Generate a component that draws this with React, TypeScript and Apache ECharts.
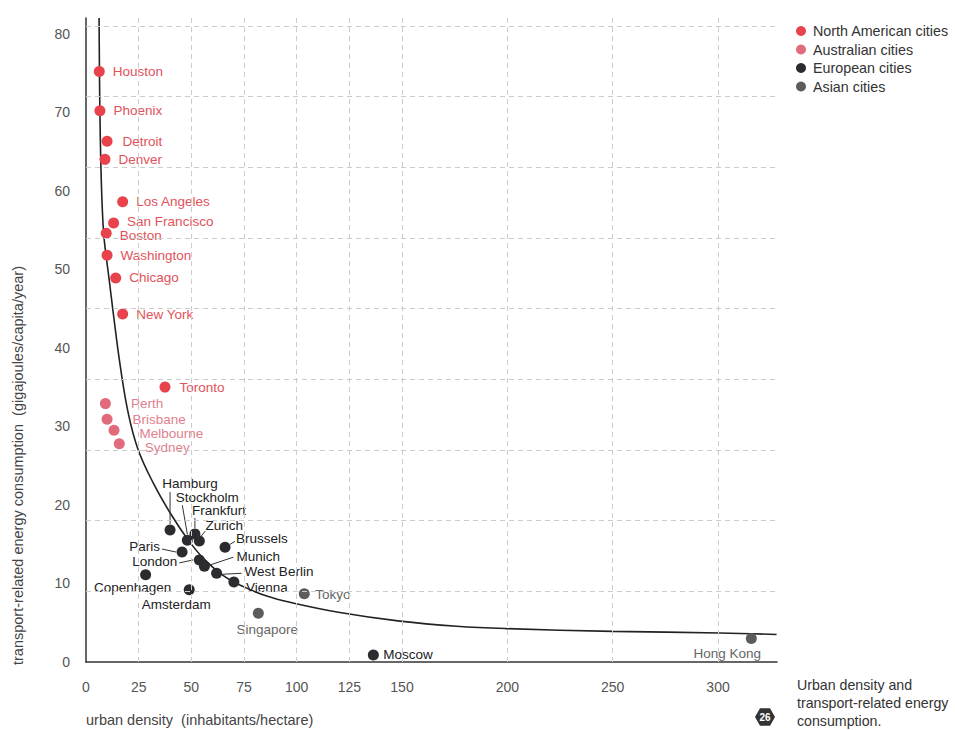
import React, { useEffect, useRef } from 'react';
import * as echarts from 'echarts';

// ---- axis ticks / grid ----
const xTickLabels = [0, 25, 50, 75, 100, 125, 150, 200, 250, 300];
const yTickLabels = [0, 10, 20, 30, 40, 50, 60, 70, 80];
const xGridValues = [25, 50, 75, 100, 125, 150, 200, 250, 300];
const yGridValues = [9, 18, 27, 36, 45, 54, 63, 72, 81];

// ---- North American cities ----
const naCities = ['Houston', 'Phoenix', 'Detroit', 'Denver', 'Los Angeles', 'San Francisco', 'Boston', 'Washington', 'Chicago', 'New York', 'Toronto'];
const naDensity = [6.3, 6.6, 10, 9, 17.4, 13.1, 9.6, 10, 14.1, 17.4, 37.5];
const naEnergy = [75.2, 70.2, 66.3, 64, 58.6, 55.9, 54.6, 51.8, 48.9, 44.3, 35];

// ---- Australian cities ----
const auCities = ['Perth', 'Brisbane', 'Melbourne', 'Sydney'];
const auDensity = [9.2, 10, 13.3, 15.8];
const auEnergy = [32.9, 30.9, 29.5, 27.8];

// ---- European cities ----
const euCities = ['Hamburg', 'Stockholm', 'Frankfurt', 'Zurich', 'Paris', 'Brussels', 'London', 'Munich', 'West Berlin', 'Vienna', 'Copenhagen', 'Amsterdam', 'Moscow'];
const euDensity = [39.9, 48.1, 51.7, 53.8, 45.6, 66, 53.8, 56.2, 62, 70.2, 28.3, 49, 136.4];
const euEnergy = [16.8, 15.5, 16.3, 15.4, 14, 14.6, 13, 12.2, 11.3, 10.2, 11.1, 9.2, 0.9];

// ---- Asian cities ----
const asCities = ['Tokyo', 'Singapore', 'Hong Kong'];
const asDensity = [103.6, 81.8, 315.8];
const asEnergy = [8.7, 6.2, 3.0];

// ---- fitted trend curve ----
const trendDensity = [6.2, 6.4, 6.6, 7.0, 7.6, 8.4, 9.5, 10.9, 13.0, 16.2, 20.2, 24.8, 31.9, 39.9, 47.8, 55.7, 65.2, 74.7, 85.8, 96.8, 120.5, 149, 176, 199.7, 250, 300.9, 327.8];
const trendEnergy = [82, 75, 70, 64, 58.6, 54.5, 51.8, 48.9, 44.3, 37.8, 31.5, 27, 22.8, 19.0, 15.8, 13.2, 11.0, 9.6, 8.4, 7.6, 6.3, 5.2, 4.55, 4.25, 3.9, 3.7, 3.5];

// ---- styles ----
const FONT = '"Liberation Sans", Arial, Helvetica, sans-serif';
const C_NA = '#e8434d';
const C_AU = '#e26b7b';
const C_EU = '#2c2c30';
const C_AS = '#5c5c5c';
const T_NA = '#e2525b';
const T_AU = '#e2808d';
const T_EU = '#222';
const T_AS = '#666';
const LABEL_SIZE = 13.5;

// label placement (pixel offsets, style only)
const naLabelTweaks: Record<string, any> = {
  Detroit: { distance: 10 },
  'San Francisco': { offset: [0, -1.5] },
  Boston: { offset: [0, 2.5] },
  Toronto: { distance: 9 },
};
const auLabelOffsets: Record<string, number> = {
  Perth: 0,
  Brisbane: 0,
  Melbourne: 3,
  Sydney: 3.5,
};
// [align, dx, dy] relative to the dot centre
const insideLabels: Record<string, [string, number, number]> = {
  Hamburg: ['center', 20, -47],
  Stockholm: ['center', 20, -43],
  Frankfurt: ['center', 24, -23],
  Zurich: ['center', 25, -16],
  Paris: ['right', -22, -6],
  London: ['right', -22, 2],
  Brussels: ['left', 11, -9],
  Munich: ['left', 32, -10],
  'West Berlin': ['left', 28, -2],
  Vienna: ['left', 12, 6],
  Copenhagen: ['center', -13, 13],
  Amsterdam: ['center', -13, 15],
  Moscow: ['left', 10, 0],
  Tokyo: ['left', 11, 1],
  Singapore: ['center', 9, 16],
  'Hong Kong': ['center', -24, 15],
};
// leader lines [x1, y1, x2, y2] relative to the dot centre
const leaders: Record<string, [number, number, number, number]> = {
  Hamburg: [0, -38, 0, -6],
  Stockholm: [-5, -35, 0, -6],
  Frankfurt: [0, -16, 0, -6],
  Zurich: [6, -10, 2, -5],
  Paris: [-20, -3, -6, 0],
  London: [-20, 3, -6, 0],
  Brussels: [10, -6, 5, -3],
  Munich: [29, -9, 5, -1],
  'West Berlin': [25, 0, 6, 1],
};

function insideItem(name: string, x: number, y: number, color: string) {
  const l = insideLabels[name];
  return {
    name,
    value: [x, y],
    label: {
      show: true,
      position: 'inside',
      align: l[0],
      verticalAlign: 'middle',
      offset: [l[1], l[2]],
      color,
    },
  };
}

export default function App() {
  const ref = useRef<HTMLDivElement>(null);

  useEffect(() => {
    if (!ref.current) return;
    const chart = echarts.init(ref.current, undefined, { renderer: 'svg' });

    const naData = naCities.map((n, i) => ({
      name: n,
      value: [naDensity[i], naEnergy[i]],
      label: { show: true, position: 'right', distance: 8, color: T_NA, ...(naLabelTweaks[n] || {}) },
    }));
    const auData = auCities.map((n, i) => ({
      name: n,
      value: [auDensity[i], auEnergy[i]],
      label: { show: true, position: 'right', distance: 20, color: T_AU, offset: [0, auLabelOffsets[n] || 0] },
    }));
    const euData = euCities.map((n, i) => insideItem(n, euDensity[i], euEnergy[i], T_EU));
    const asData = asCities.map((n, i) => insideItem(n, asDensity[i], asEnergy[i], T_AS));

    const leaderData = euCities
      .map((n, i) => [euDensity[i], euEnergy[i], i])
      .filter((d) => leaders[euCities[d[2]]]);

    const gridLineData = [
      ...xGridValues.map((v) => ({ xAxis: v })),
      ...yGridValues.map((v) => ({ yAxis: v })),
    ];

    const labelFont = { fontFamily: FONT, fontSize: LABEL_SIZE };

    const hex: number[][] = [];
    for (let k = 0; k < 6; k++) {
      const a = (Math.PI / 3) * k;
      hex.push([765 + 10 * Math.cos(a), 717 + 10 * Math.sin(a)]);
    }

    chart.setOption({
      animation: false,
      backgroundColor: '#ffffff',
      textStyle: { fontFamily: FONT },
      grid: { left: 86, right: 178, top: 18, bottom: 68, containLabel: false },
      legend: {
        orient: 'vertical',
        left: 791,
        top: 19,
        itemWidth: 10,
        itemHeight: 10,
        itemGap: 4.5,
        icon: 'circle',
        textStyle: { fontFamily: FONT, fontSize: 14.3, color: '#333', padding: [0, 0, 0, 2] },
        data: ['North American cities', 'Australian cities', 'European cities', 'Asian cities'],
      },
      xAxis: {
        type: 'value',
        min: 0,
        max: 328,
        interval: 25,
        axisLine: { show: true, lineStyle: { color: '#333', width: 1.5 } },
        axisTick: { show: false },
        splitLine: { show: false },
        axisLabel: {
          margin: 18,
          color: '#555',
          fontSize: 14,
          fontFamily: FONT,
          formatter: (v: number) => (xTickLabels.includes(v) ? String(v) : ''),
        },
      },
      yAxis: {
        type: 'value',
        min: 0,
        max: 82,
        interval: 10,
        axisLine: { show: true, lineStyle: { color: '#333', width: 1.5 } },
        axisTick: { show: false },
        splitLine: { show: false },
        axisLabel: {
          margin: 16,
          color: '#555',
          fontSize: 14,
          fontFamily: FONT,
          formatter: (v: number) => (yTickLabels.includes(v) ? String(v) : ''),
        },
      },
      series: [
        {
          name: 'trend',
          type: 'line',
          z: 1,
          data: trendDensity.map((x, i) => [x, trendEnergy[i]]),
          showSymbol: false,
          smooth: 0.4,
          lineStyle: { color: '#222', width: 1.6 },
          silent: true,
          markLine: {
            silent: true,
            symbol: 'none',
            label: { show: false },
            lineStyle: { color: '#cccccc', type: [5, 4], width: 1 },
            data: gridLineData,
          },
        },
        {
          name: 'leaders',
          type: 'custom',
          z: 2,
          silent: true,
          data: leaderData,
          renderItem: (params: any, api: any) => {
            const idx = api.value(2);
            const o = leaders[euCities[idx]];
            const p = api.coord([api.value(0), api.value(1)]);
            return {
              type: 'line',
              shape: { x1: p[0] + o[0], y1: p[1] + o[1], x2: p[0] + o[2], y2: p[1] + o[3] },
              style: { stroke: '#333', lineWidth: 1 },
            };
          },
        },
        {
          name: 'North American cities',
          type: 'scatter',
          z: 3,
          symbolSize: 11,
          itemStyle: { color: C_NA, opacity: 1 },
          label: { ...labelFont, formatter: '{b}' },
          data: naData,
        },
        {
          name: 'Australian cities',
          type: 'scatter',
          z: 3,
          symbolSize: 11,
          itemStyle: { color: C_AU, opacity: 1 },
          label: { ...labelFont, formatter: '{b}' },
          data: auData,
        },
        {
          name: 'European cities',
          type: 'scatter',
          z: 3,
          symbolSize: 11,
          itemStyle: { color: C_EU, opacity: 1 },
          label: { ...labelFont, formatter: '{b}' },
          data: euData,
        },
        {
          name: 'Asian cities',
          type: 'scatter',
          z: 3,
          symbolSize: 11,
          itemStyle: { color: C_AS, opacity: 1 },
          label: { ...labelFont, formatter: '{b}' },
          data: asData,
        },
      ],
      graphic: [
        {
          type: 'text',
          x: 18,
          y: 665,
          rotation: Math.PI / 2,
          style: {
            text: 'transport-related energy consumption  (gigajoules/capita/year)',
            fontFamily: FONT,
            fontSize: 14.5,
            fill: '#444',
            textAlign: 'left',
            textVerticalAlign: 'middle',
          },
        },
        {
          type: 'text',
          x: 86,
          y: 720,
          style: {
            text: 'urban density  (inhabitants/hectare)',
            fontFamily: FONT,
            fontSize: 14.5,
            fill: '#444',
            textAlign: 'left',
            textVerticalAlign: 'middle',
          },
        },
        {
          type: 'text',
          x: 797,
          y: 676,
          style: {
            text: 'Urban density and\ntransport-related energy\nconsumption.',
            fontFamily: FONT,
            fontSize: 14.2,
            lineHeight: 18,
            fill: '#333',
            textAlign: 'left',
            textVerticalAlign: 'top',
          },
        },
        {
          type: 'polygon',
          shape: { points: hex },
          style: { fill: '#333' },
        },
        {
          type: 'text',
          x: 765,
          y: 717,
          style: {
            text: '26',
            fontFamily: FONT,
            fontSize: 10,
            fontWeight: 'bold',
            fill: '#fff',
            textAlign: 'center',
            textVerticalAlign: 'middle',
          },
        },
      ],
    });

    return () => chart.dispose();
  }, []);

  return (
    <div
      ref={ref}
      style={{ position: 'absolute', left: 0, top: 0, width: 955, height: 730, background: '#fff' }}
    />
  );
}
